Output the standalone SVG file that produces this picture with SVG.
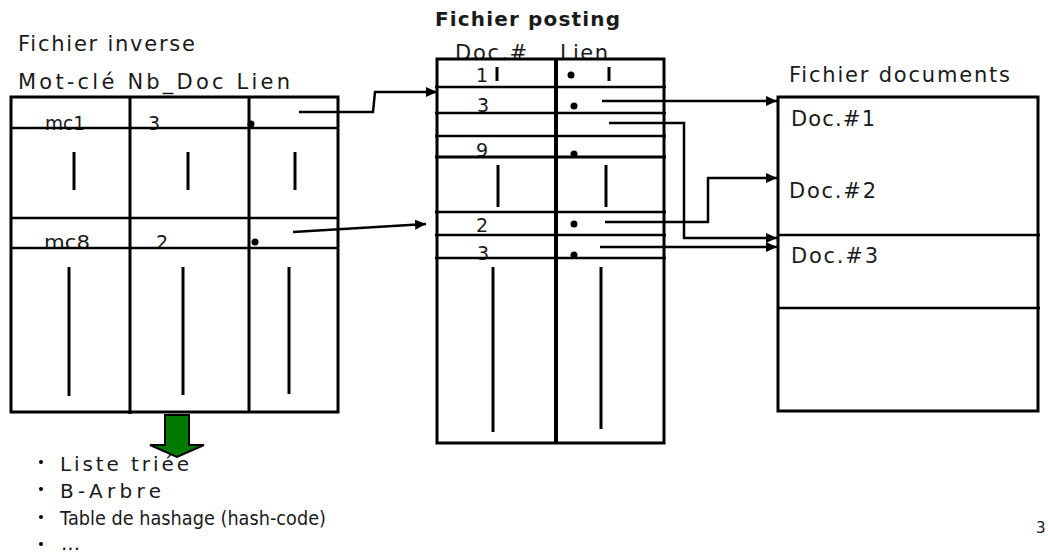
<svg xmlns="http://www.w3.org/2000/svg" width="1048" height="553" viewBox="0 0 1048 553">
<style>
  text { font-family: "DejaVu Sans", "Liberation Sans", sans-serif; fill: #1a1a1a; }
  .t { font-size: 21px; }
  .u { font-size: 20px; }
  .s { font-size: 19px; }
  .b { font-size: 20px; font-weight: bold; }
  .frame { fill: none; stroke: #000; stroke-width: 3; }
  .ln { stroke: #000; stroke-width: 2.5; fill: none; }
  .bar { stroke: #000; stroke-width: 3; }
  .conn { stroke: #000; stroke-width: 2.5; fill: none; marker-end: url(#ah); }
  .dot { fill: #000; }
</style>
<defs>
  <marker id="ah" markerUnits="userSpaceOnUse" markerWidth="12" markerHeight="10" refX="11" refY="5" orient="auto">
    <path d="M0,0 L11,5 L0,10 Z" fill="#000"/>
  </marker>
</defs>
<rect width="1048" height="553" fill="#fff"/>

<g id="fichier-inverse">
  <text class="t" x="18" y="51" textLength="177" lengthAdjust="spacing">Fichier inverse</text>
  <text class="t" x="18" y="89" textLength="272" lengthAdjust="spacing">Mot-clé  Nb_Doc  Lien</text>
  <text class="s" x="45" y="130" textLength="40" lengthAdjust="spacingAndGlyphs">mc1</text>
  <text class="s" x="148" y="130">3</text>
  <text class="s" x="44" y="249" textLength="46" lengthAdjust="spacingAndGlyphs">mc8</text>
  <text class="s" x="156" y="249">2</text>
  <rect class="frame" x="11" y="97" width="327" height="315"/>
  <line class="ln" x1="11" y1="128" x2="338" y2="128"/>
  <line class="ln" x1="11" y1="218" x2="338" y2="218"/>
  <line class="ln" x1="11" y1="248" x2="338" y2="248"/>
  <line class="frame" x1="130" y1="97" x2="130" y2="414"/>
  <line class="frame" x1="249" y1="97" x2="249" y2="412"/>
  <line class="bar" x1="74" y1="152" x2="74" y2="190"/>
  <line class="bar" x1="188" y1="152" x2="188" y2="190"/>
  <line class="bar" x1="295" y1="152" x2="295" y2="190"/>
  <line class="bar" x1="69" y1="267" x2="69" y2="396"/>
  <line class="bar" x1="183" y1="267" x2="183" y2="395"/>
  <line class="bar" x1="289" y1="267" x2="289" y2="394"/>
  <circle class="dot" cx="251" cy="124" r="3.5"/>
  <circle class="dot" cx="255" cy="242" r="3.5"/>
</g>

<g id="fichier-posting">
  <text class="b" x="435" y="26" textLength="185" lengthAdjust="spacing">Fichier posting</text>
  <text class="t" x="455" y="60" textLength="72" lengthAdjust="spacing">Doc.#</text>
  <text class="t" x="560" y="60" textLength="48" lengthAdjust="spacing">Lien</text>
  <text class="s" x="476" y="82">1</text>
  <text class="s" x="477" y="112">3</text>
  <text class="s" x="476" y="157">9</text>
  <text class="s" x="476" y="232">2</text>
  <text class="s" x="477" y="260">3</text>
  <rect class="frame" x="437" y="59" width="227" height="384"/>
  <line x1="556" y1="59" x2="556" y2="443" stroke="#000" stroke-width="4"/>
  <line class="ln" x1="435" y1="87" x2="666" y2="87"/>
  <line class="ln" x1="435" y1="113" x2="666" y2="113"/>
  <line class="ln" x1="435" y1="136" x2="666" y2="136"/>
  <line x1="435" y1="157" x2="666" y2="157" stroke="#000" stroke-width="3"/>
  <line class="ln" x1="435" y1="212" x2="666" y2="212"/>
  <line class="ln" x1="435" y1="235" x2="666" y2="235"/>
  <line class="ln" x1="435" y1="258" x2="666" y2="258"/>
  <line class="bar" x1="497" y1="67" x2="497" y2="81"/>
  <line class="bar" x1="609" y1="67" x2="609" y2="81"/>
  <line class="bar" x1="498" y1="165" x2="498" y2="207"/>
  <line class="bar" x1="606" y1="165" x2="606" y2="207"/>
  <line class="bar" x1="493" y1="267" x2="493" y2="432"/>
  <line class="bar" x1="601" y1="267" x2="601" y2="429"/>
  <circle class="dot" cx="571" cy="75" r="3.5"/>
  <circle class="dot" cx="574" cy="106" r="3.5"/>
  <circle class="dot" cx="574" cy="154" r="3.5"/>
  <circle class="dot" cx="574" cy="224" r="3.5"/>
  <circle class="dot" cx="574" cy="255" r="3.5"/>
</g>

<g id="fichier-documents">
  <text class="t" x="789" y="82" textLength="221" lengthAdjust="spacing">Fichier documents</text>
  <rect class="frame" x="778" y="97" width="260" height="314"/>
  <line class="ln" x1="778" y1="235" x2="1040" y2="235"/>
  <line class="ln" x1="778" y1="308" x2="1040" y2="308"/>
  <text class="t" x="791" y="126" textLength="84" lengthAdjust="spacing">Doc.#1</text>
  <text class="t" x="789" y="198" textLength="87" lengthAdjust="spacing">Doc.#2</text>
  <text class="t" x="791" y="263" textLength="87" lengthAdjust="spacing">Doc.#3</text>
</g>

<g id="connectors">
  <path class="conn" d="M299,112 H373 L375,92 H437"/>
  <path class="conn" d="M293,232 L426,224"/>
  <path class="conn" d="M602,101 H777"/>
  <path class="conn" d="M609,123 H684 V238 H777"/>
  <path class="conn" d="M605,222 H708 V178 H777"/>
  <path class="conn" d="M600,247 H777"/>
</g>

<g id="structures">
  <polygon points="165,415 189,415 189,445 204,445 177,457 150,445 165,445" fill="#007a00" stroke="#000" stroke-width="2"/>
  <circle class="dot" cx="41" cy="462" r="2"/>
  <circle class="dot" cx="41" cy="489" r="2"/>
  <circle class="dot" cx="41" cy="517" r="2"/>
  <circle class="dot" cx="41" cy="544" r="2"/>
  <text class="u" x="60" y="471" textLength="129" lengthAdjust="spacing">Liste triée</text>
  <text class="u" x="60" y="498" textLength="101" lengthAdjust="spacing">B-Arbre</text>
  <text class="u" x="60" y="525" textLength="266" lengthAdjust="spacingAndGlyphs">Table de hashage (hash-code)</text>
  <text class="u" x="61" y="550">...</text>
  <text x="1036" y="533" font-size="15">3</text>
</g>
</svg>
